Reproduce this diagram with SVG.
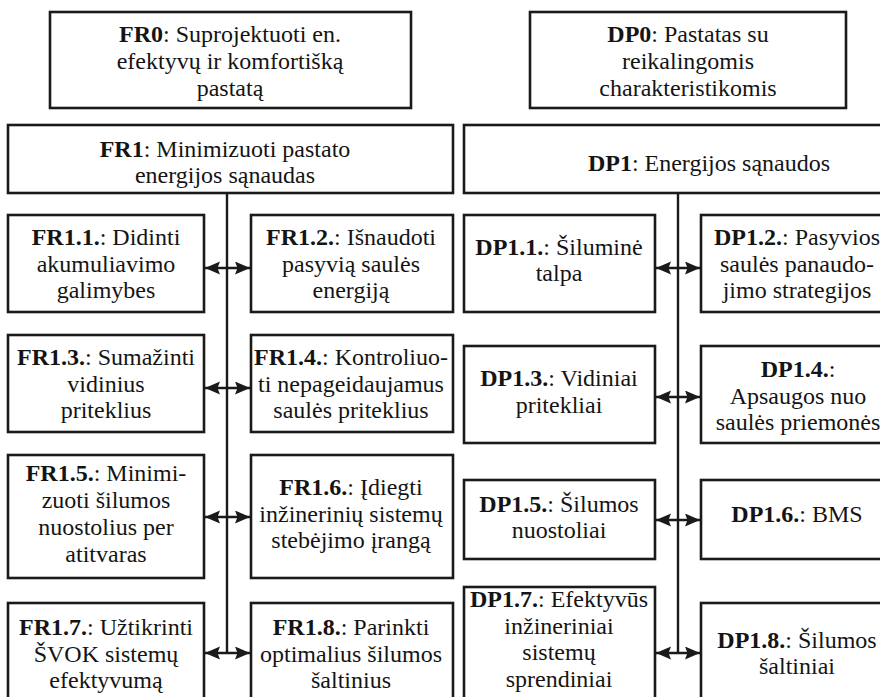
<svg xmlns="http://www.w3.org/2000/svg" width="880" height="697" viewBox="0 0 880 697">
  <style>
    .box { fill: #ffffff; stroke: #1a1a1a; stroke-width: 2.6; }
    .lbl { font-family: 'Liberation Serif', 'Tinos', 'Times New Roman', 'DejaVu Serif', serif; font-size: 24px; fill: #141414; text-anchor: middle; }
    .lbl .b { font-weight: bold; }
    .wire { stroke: #1a1a1a; stroke-width: 2.4; fill: none; }
  </style>
  <defs>
    <marker id="head" markerUnits="userSpaceOnUse" markerWidth="16" markerHeight="14" refX="15" refY="6.5" orient="auto-start-reverse">
      <path d="M0,0 L15,6.5 L0,13 L2.5,6.5 z" fill="#1a1a1a"/>
    </marker>
  </defs>
  <rect x="0" y="0" width="880" height="697" fill="#ffffff"/>

  <!-- connectors: trunks and double-headed arrows -->
  <g id="connectors">
    <line class="wire" x1="227" y1="193" x2="227" y2="653"/>
    <line class="wire" x1="678" y1="193" x2="678" y2="653"/>
    <line class="wire" x1="205" y1="268" x2="250" y2="268" marker-start="url(#head)" marker-end="url(#head)"/>
    <line class="wire" x1="205" y1="388" x2="250" y2="388" marker-start="url(#head)" marker-end="url(#head)"/>
    <line class="wire" x1="205" y1="517" x2="250" y2="517" marker-start="url(#head)" marker-end="url(#head)"/>
    <line class="wire" x1="205" y1="653" x2="250" y2="653" marker-start="url(#head)" marker-end="url(#head)"/>
    <line class="wire" x1="656" y1="268" x2="700" y2="268" marker-start="url(#head)" marker-end="url(#head)"/>
    <line class="wire" x1="656" y1="397" x2="700" y2="397" marker-start="url(#head)" marker-end="url(#head)"/>
    <line class="wire" x1="656" y1="520" x2="700" y2="520" marker-start="url(#head)" marker-end="url(#head)"/>
    <line class="wire" x1="656" y1="653" x2="700" y2="653" marker-start="url(#head)" marker-end="url(#head)"/>
  </g>

  <!-- functional requirements -->
  <g id="FR0">
    <rect class="box" x="50" y="12" width="361" height="96"/>
    <text class="lbl"><tspan x="230" y="42"><tspan class="b">FR0</tspan>: Suprojektuoti en.</tspan><tspan x="230" y="69">efektyvų ir komfortišką</tspan><tspan x="230" y="96">pastatą</tspan></text>
  </g>
  <g id="FR1">
    <rect class="box" x="8" y="125" width="445" height="68"/>
    <text class="lbl"><tspan x="225" y="157"><tspan class="b">FR1</tspan>: Minimizuoti pastato</tspan><tspan x="225" y="183">energijos sąnaudas</tspan></text>
  </g>
  <g id="FR1.1">
    <rect class="box" x="8" y="215" width="196" height="97"/>
    <text class="lbl"><tspan x="106" y="245"><tspan class="b">FR1.1.</tspan>: Didinti</tspan><tspan x="106" y="272">akumuliavimo</tspan><tspan x="106" y="298">galimybes</tspan></text>
  </g>
  <g id="FR1.2">
    <rect class="box" x="251" y="215" width="202" height="97"/>
    <text class="lbl"><tspan x="351" y="245"><tspan class="b">FR1.2.</tspan>: Išnaudoti</tspan><tspan x="351" y="272">pasyvią saulės</tspan><tspan x="351" y="298">energiją</tspan></text>
  </g>
  <g id="FR1.3">
    <rect class="box" x="8" y="335" width="196" height="97"/>
    <text class="lbl"><tspan x="106" y="365"><tspan class="b">FR1.3.</tspan>: Sumažinti</tspan><tspan x="106" y="392">vidinius</tspan><tspan x="106" y="418">priteklius</tspan></text>
  </g>
  <g id="FR1.4">
    <rect class="box" x="251" y="335" width="202" height="97"/>
    <text class="lbl"><tspan x="351" y="365"><tspan class="b">FR1.4.</tspan>: Kontroliuo-</tspan><tspan x="351" y="392">ti nepageidaujamus</tspan><tspan x="351" y="418">saulės priteklius</tspan></text>
  </g>
  <g id="FR1.5">
    <rect class="box" x="8" y="455" width="196" height="123"/>
    <text class="lbl"><tspan x="106" y="481"><tspan class="b">FR1.5.</tspan>: Minimi-</tspan><tspan x="106" y="508">zuoti šilumos</tspan><tspan x="106" y="535">nuostolius per</tspan><tspan x="106" y="562">atitvaras</tspan></text>
  </g>
  <g id="FR1.6">
    <rect class="box" x="251" y="455" width="202" height="123"/>
    <text class="lbl"><tspan x="351" y="495"><tspan class="b">FR1.6.</tspan>: Įdiegti</tspan><tspan x="351" y="522">inžinerinių sistemų</tspan><tspan x="351" y="548">stebėjimo įrangą</tspan></text>
  </g>
  <g id="FR1.7">
    <rect class="box" x="8" y="603" width="196" height="104"/>
    <text class="lbl"><tspan x="106" y="635"><tspan class="b">FR1.7.</tspan>: Užtikrinti</tspan><tspan x="106" y="662">ŠVOK sistemų</tspan><tspan x="106" y="688">efektyvumą</tspan></text>
  </g>
  <g id="FR1.8">
    <rect class="box" x="251" y="603" width="202" height="104"/>
    <text class="lbl"><tspan x="351" y="635"><tspan class="b">FR1.8.</tspan>: Parinkti</tspan><tspan x="351" y="662">optimalius šilumos</tspan><tspan x="351" y="688">šaltinius</tspan></text>
  </g>

  <!-- design parameters -->
  <g id="DP0">
    <rect class="box" x="530" y="12" width="316" height="96"/>
    <text class="lbl"><tspan x="688" y="42"><tspan class="b">DP0</tspan>: Pastatas su</tspan><tspan x="688" y="69">reikalingomis</tspan><tspan x="688" y="96">charakteristikomis</tspan></text>
  </g>
  <g id="DP1">
    <rect class="box" x="464" y="125" width="430" height="68"/>
    <text class="lbl"><tspan x="709" y="171"><tspan class="b">DP1</tspan>: Energijos sąnaudos</tspan></text>
  </g>
  <g id="DP1.1">
    <rect class="box" x="464" y="215" width="191" height="97"/>
    <text class="lbl"><tspan x="559" y="255"><tspan class="b">DP1.1.</tspan>: Šiluminė</tspan><tspan x="559" y="281">talpa</tspan></text>
  </g>
  <g id="DP1.2">
    <rect class="box" x="701" y="215" width="193" height="97"/>
    <text class="lbl"><tspan x="797" y="245"><tspan class="b">DP1.2.</tspan>: Pasyvios</tspan><tspan x="797" y="272">saulės panaudo-</tspan><tspan x="797" y="298">jimo strategijos</tspan></text>
  </g>
  <g id="DP1.3">
    <rect class="box" x="464" y="346" width="191" height="97"/>
    <text class="lbl"><tspan x="559" y="386"><tspan class="b">DP1.3.</tspan>: Vidiniai</tspan><tspan x="559" y="413">pritekliai</tspan></text>
  </g>
  <g id="DP1.4">
    <rect class="box" x="701" y="346" width="193" height="97"/>
    <text class="lbl"><tspan x="798" y="377"><tspan class="b">DP1.4.</tspan>:</tspan><tspan x="798" y="404">Apsaugos nuo</tspan><tspan x="798" y="430">saulės priemonės</tspan></text>
  </g>
  <g id="DP1.5">
    <rect class="box" x="464" y="480" width="191" height="79"/>
    <text class="lbl"><tspan x="559" y="512"><tspan class="b">DP1.5.</tspan>: Šilumos</tspan><tspan x="559" y="538">nuostoliai</tspan></text>
  </g>
  <g id="DP1.6">
    <rect class="box" x="701" y="480" width="193" height="79"/>
    <text class="lbl"><tspan x="797" y="522"><tspan class="b">DP1.6.</tspan>: BMS</tspan></text>
  </g>
  <g id="DP1.7">
    <rect class="box" x="464" y="587" width="191" height="120"/>
    <text class="lbl"><tspan x="559" y="607"><tspan class="b">DP1.7.</tspan>: Efektyvūs</tspan><tspan x="559" y="634">inžineriniai</tspan><tspan x="559" y="660">sistemų</tspan><tspan x="559" y="687">sprendiniai</tspan></text>
  </g>
  <g id="DP1.8">
    <rect class="box" x="701" y="603" width="193" height="104"/>
    <text class="lbl"><tspan x="797" y="648"><tspan class="b">DP1.8.</tspan>: Šilumos</tspan><tspan x="797" y="674">šaltiniai</tspan></text>
  </g>
</svg>
